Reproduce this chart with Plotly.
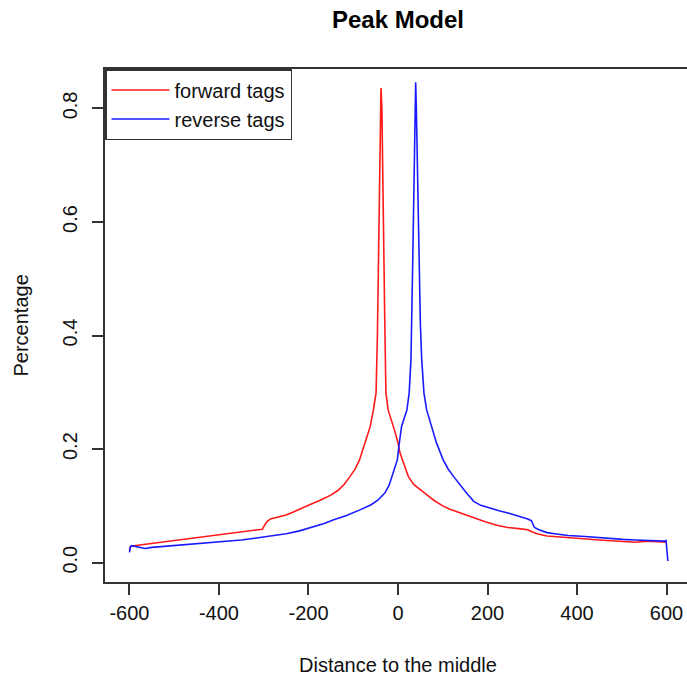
import plotly.graph_objects as go

# ---- data ----
forward_x = [-600, -598, -590, -570, -550, -520, -500, -470, -450, -420, -400, -370, -350,
             -330, -310, -303, -298, -292, -285, -270, -250, -235, -219, -200, -174, -150,
             -133, -120, -107, -95, -86, -80, -74, -68, -62, -55, -49, -46, -43, -40, -38,
             -36, -34, -32, -30, -27, -22, -16, -10, -5, 0, 4, 10, 16, 23, 35, 50, 64, 80,
             100, 116, 140, 168, 195, 221, 245, 270, 290, 300, 315, 333, 360, 400, 450,
             480, 500, 530, 560, 590, 600]
forward_y = [0.022, 0.028, 0.030, 0.032, 0.034, 0.036, 0.038, 0.041, 0.043, 0.046, 0.048,
             0.051, 0.053, 0.055, 0.058, 0.059, 0.066, 0.073, 0.077, 0.080, 0.084, 0.089,
             0.095, 0.101, 0.110, 0.119, 0.128, 0.138, 0.152, 0.166, 0.181, 0.195, 0.211,
             0.226, 0.240, 0.269, 0.299, 0.40, 0.58, 0.74, 0.836, 0.80, 0.709, 0.57, 0.45,
             0.299, 0.269, 0.255, 0.240, 0.226, 0.211, 0.195, 0.181, 0.168, 0.152, 0.138,
             0.128, 0.120, 0.110, 0.100, 0.094, 0.087, 0.080, 0.072, 0.066, 0.062, 0.060,
             0.058, 0.054, 0.050, 0.047, 0.045, 0.043, 0.040, 0.038, 0.037, 0.036, 0.038,
             0.037, 0.036]

reverse_x = [-600, -598, -595, -590, -580, -565, -550, -520, -500, -470, -450, -420, -400,
             -370, -350, -320, -300, -280, -250, -220, -190, -165, -145, -115, -85, -60,
             -45, -29, -20, -11, -5, -1.5, 3, 8, 14, 20, 25, 29, 33, 36, 38, 39.5, 41, 43,
             46, 50, 53, 58, 64, 70, 75, 86, 101, 112, 124, 140, 154, 163, 169, 185, 205,
             228, 248, 270, 290, 298, 305, 315, 333, 350, 380, 418, 460, 503, 530, 560,
             587, 596, 599, 601, 603]
reverse_y = [0.018, 0.028, 0.030, 0.029, 0.027, 0.025, 0.027, 0.029, 0.030, 0.032, 0.033,
             0.035, 0.037, 0.039, 0.040, 0.043, 0.045, 0.047, 0.051, 0.056, 0.063, 0.069,
             0.075, 0.083, 0.093, 0.102, 0.110, 0.123, 0.136, 0.158, 0.170, 0.181, 0.211,
             0.240, 0.255, 0.269, 0.299, 0.358, 0.534, 0.709, 0.80, 0.846, 0.80, 0.709,
             0.534, 0.42, 0.358, 0.299, 0.269, 0.252, 0.240, 0.211, 0.181, 0.165, 0.152,
             0.135, 0.122, 0.114, 0.108, 0.101, 0.096, 0.091, 0.087, 0.082, 0.077, 0.074,
             0.062, 0.058, 0.053, 0.051, 0.048, 0.046, 0.043, 0.041, 0.040, 0.039, 0.038,
             0.038, 0.039, 0.020, 0.003]

x_tick_vals = [-600, -400, -200, 0, 200, 400, 600]
x_tick_text = ["-600", "-400", "-200", "0", "200", "400", "600"]
y_tick_vals = [0.0, 0.2, 0.4, 0.6, 0.8]
y_tick_text = ["0.0", "0.2", "0.4", "0.6", "0.8"]

FONT = "Liberation Sans, Arial, Helvetica, sans-serif"
AX = "#333333"

fig = go.Figure()
fig.add_trace(go.Scatter(x=forward_x, y=forward_y, mode="lines", name="forward tags",
                         line=dict(color="#ff1a1a", width=1.6)))
fig.add_trace(go.Scatter(x=reverse_x, y=reverse_y, mode="lines", name="reverse tags",
                         line=dict(color="#1a1aff", width=1.6)))

W, H = 687, 679
L, R, T, B = 105, 0, 69, 97

fig.update_layout(
    width=W, height=H,
    margin=dict(l=L, r=R, t=T, b=B, pad=0),
    paper_bgcolor="white", plot_bgcolor="white",
    font=dict(family=FONT, size=20, color="#111111"),
    title=dict(text="Peak Model", x=398 / W, xanchor="center", xref="container",
               y=1 - 20 / H, yanchor="middle", yref="container",
               font=dict(family=FONT, size=24, color="#000000", weight="bold")),
    showlegend=True,
    legend=dict(x=0, y=1, xanchor="left", yanchor="top", xref="paper", yref="paper",
                bgcolor="white", bordercolor=AX, borderwidth=1.5,
                font=dict(family=FONT, size=20, color="#111111"),
                itemwidth=58, tracegroupgap=0),
    xaxis=dict(range=[-654.7, 645.8], showgrid=False, zeroline=False,
               showline=True, linecolor=AX, linewidth=1.5, mirror=True,
               ticks="outside", ticklen=11, tickwidth=1.5, tickcolor=AX,
               tickvals=x_tick_vals, ticktext=x_tick_text, ticklabelstandoff=1,
               tickfont=dict(family=FONT, size=20, color="#111111")),
    yaxis=dict(range=[-0.034, 0.8694], showgrid=False, zeroline=False,
               showline=True, linecolor=AX, linewidth=1.5, mirror=False,
               ticks="outside", ticklen=11, tickwidth=1.5, tickcolor=AX,
               tickvals=y_tick_vals, ticktext=y_tick_text, tickangle=-90,
               ticklabelstandoff=7,
               tickfont=dict(family=FONT, size=20, color="#111111")),
    annotations=[
        dict(text="Distance to the middle", xref="paper", yref="paper",
             x=(398 - L) / (W - L - R), y=-(665 - (H - B)) / (H - T - B),
             xanchor="center", yanchor="middle", showarrow=False,
             font=dict(family=FONT, size=20, color="#111111")),
        dict(text="Percentage", xref="paper", yref="paper",
             x=-(L - 20) / (W - L - R), y=0.5, textangle=-90,
             xanchor="center", yanchor="middle", showarrow=False,
             font=dict(family=FONT, size=20, color="#111111")),
    ],
)

fig.write_html("out.html", config={"displayModeBar": False},
               post_script="document.body.style.margin='0';")
